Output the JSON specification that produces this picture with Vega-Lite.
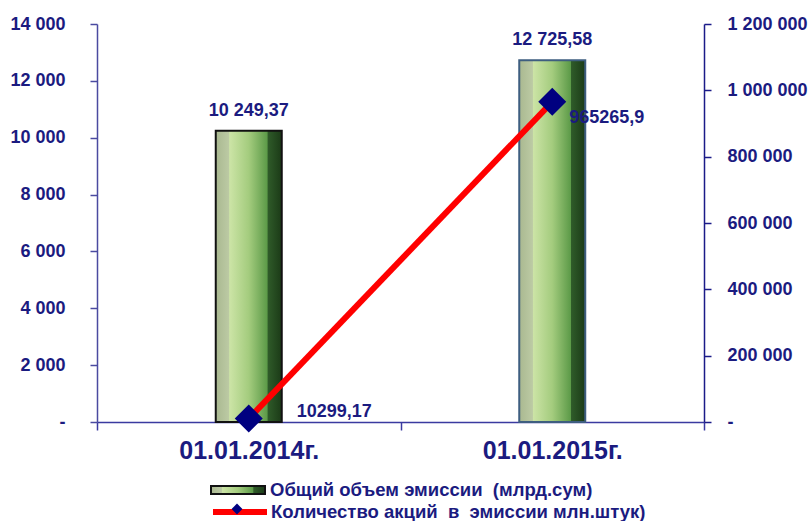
{
  "$schema": "https://vega.github.io/schema/vega-lite/v6.json",
  "width": 607,
  "height": 398,
  "autosize": "none",
  "padding": {"left": 97, "top": 24, "right": 107, "bottom": 99},
  "background": "white",
  "config": {
    "view": {"stroke": null},
    "font": "Liberation Sans",
    "locale": {"number": {"decimal": ",", "thousands": " ", "grouping": [3], "currency": ["", ""]}}
  },
  "data": {
    "values": [
      {"date": "01.01.2014г.", "volume": 10249.37, "shares": 10299.17},
      {"date": "01.01.2015г.", "volume": 12725.58, "shares": 965265.9}
    ]
  },
  "encoding": {
    "x": {
      "field": "date",
      "type": "nominal",
      "title": null,
      "scale": {"paddingInner": 0, "paddingOuter": 0},
      "axis": {
        "labelAngle": 0,
        "labelFontSize": 25,
        "labelFontWeight": "bold",
        "labelColor": "#1b1b80",
        "labelPadding": 8,
        "domainColor": "#3a3aa0",
        "domainWidth": 1.5,
        "tickColor": "#3a3aa0",
        "tickWidth": 1.5,
        "tickSize": 8,
        "tickBand": "extent"
      }
    }
  },
  "layer": [
    {
      "encoding": {
        "y": {
          "field": "volume",
          "type": "quantitative",
          "title": null,
          "scale": {"domain": [0, 14000], "nice": false},
          "axis": {
            "orient": "left",
            "values": [0, 2000, 4000, 6000, 8000, 10000, 12000, 14000],
            "format": ",.0f",
            "labelExpr": "datum.value === 0 ? '-\u00a0\u00a0' : datum.label",
            "grid": false,
            "labelFontSize": 18,
            "labelFontWeight": "bold",
            "labelColor": "#1b1b80",
            "labelPadding": 25,
            "domainColor": "#4a4aa0",
            "domainWidth": 1.5,
            "tickColor": "#4a4aa0",
            "tickWidth": 1.5,
            "tickSize": 7
          }
        }
      },
      "layer": [
        {
          "mark": {"type": "bar", "size": 66, "strokeWidth": 2},
          "encoding": {
            "fill": {
              "datum": "Общий объем эмиссии \u00a0(млрд.сум)",
              "scale": {
                "range": [
                  {"expr": "{gradient: 'linear', x1: 0, y1: 0, x2: 1, y2: 0, stops: [{offset: 0, color: '#a9b890'}, {offset: 0.2, color: '#bccaa4'}, {offset: 0.21, color: '#cce4a6'}, {offset: 0.5, color: '#a4cc7e'}, {offset: 0.78, color: '#5c9a48'}, {offset: 0.79, color: '#2f5b29'}, {offset: 1, color: '#1b3a17'}]}"}
                ]
              },
              "legend": {
                "title": null,
                "orient": "none",
                "legendX": 113,
                "legendY": 438,
                "symbolType": "M-1,-0.15H1V0.15H-1Z",
                "symbolSize": 2916,
                "symbolStrokeColor": "#111111",
                "symbolStrokeWidth": 2,
                "labelFontSize": 18.5,
                "labelFontWeight": "bold",
                "labelColor": "#1b1b80",
                "labelOffset": 4,
                "labelLimit": 500
              }
            },
            "stroke": {
              "condition": {"test": "datum.date === '01.01.2015г.'", "value": "#3e5e80"},
              "value": "#111111"
            }
          }
        },
        {
          "mark": {"type": "text", "baseline": "alphabetic", "dy": -15, "fontSize": 18, "fontWeight": "bold", "color": "#1b1b80"},
          "encoding": {
            "text": {"field": "volume", "type": "quantitative", "format": ",.2f"}
          }
        }
      ]
    },
    {
      "encoding": {
        "y": {
          "field": "shares",
          "type": "quantitative",
          "title": null,
          "scale": {"domain": [0, 1200000], "nice": false},
          "axis": {
            "orient": "right",
            "values": [0, 200000, 400000, 600000, 800000, 1000000, 1200000],
            "format": ",.0f",
            "labelExpr": "datum.value === 0 ? '-' : datum.label",
            "grid": false,
            "labelFontSize": 18,
            "labelFontWeight": "bold",
            "labelColor": "#1b1b80",
            "labelPadding": 16,
            "domainColor": "#1b1b88",
            "domainWidth": 1.5,
            "tickColor": "#1b1b88",
            "tickWidth": 1.5,
            "tickSize": 7
          }
        }
      },
      "layer": [
        {
          "mark": {"type": "line", "strokeWidth": 6},
          "encoding": {
            "stroke": {
              "datum": "Количество акций \u00a0в \u00a0эмиссии млн.штук)",
              "scale": {"range": ["#ff0000"]},
              "legend": {
                "title": null,
                "orient": "none",
                "legendX": 113,
                "legendY": 458,
                "zindex": 1,
                "symbolType": "stroke",
                "symbolSize": 2916,
                "symbolStrokeWidth": 6,
                "labelFontSize": 18.5,
                "labelFontWeight": "bold",
                "labelColor": "#1b1b80",
                "labelOffset": 1,
                "labelLimit": 500
              }
            }
          }
        },
        {
          "mark": {"type": "point", "filled": true, "size": 19600, "opacity": 1, "color": "#000080"},
          "encoding": {
            "shape": {
              "datum": "Количество акций \u00a0в \u00a0эмиссии млн.штук)\u00a0",
              "scale": {"range": ["M-0.2,0L0,-0.2L0.2,0L0,0.2Z"]},
              "legend": {
                "title": null,
                "orient": "none",
                "legendX": 113,
                "legendY": 458,
                "zindex": 2,
                "symbolSize": 2916,
                "symbolFillColor": "#000080",
                "symbolStrokeColor": "#000080",
                "symbolStrokeWidth": 0,
                "labelExpr": "''",
                "labelFontSize": 18.5,
                "labelOffset": 1
              }
            }
          }
        },
        {
          "transform": [{"filter": "datum.date === '01.01.2014г.'"}],
          "mark": {"type": "text", "align": "left", "baseline": "middle", "dx": 48, "dy": -7, "fontSize": 18, "fontWeight": "bold", "color": "#1b1b80"},
          "encoding": {
            "text": {"field": "shares", "type": "quantitative", "format": ".2f"}
          }
        },
        {
          "transform": [{"filter": "datum.date === '01.01.2015г.'"}],
          "mark": {"type": "text", "align": "left", "baseline": "middle", "dx": 17, "dy": 16, "fontSize": 18, "fontWeight": "bold", "color": "#1b1b80"},
          "encoding": {
            "text": {"field": "shares", "type": "quantitative", "format": ".1f"}
          }
        }
      ]
    }
  ],
  "resolve": {"scale": {"y": "independent"}}
}
